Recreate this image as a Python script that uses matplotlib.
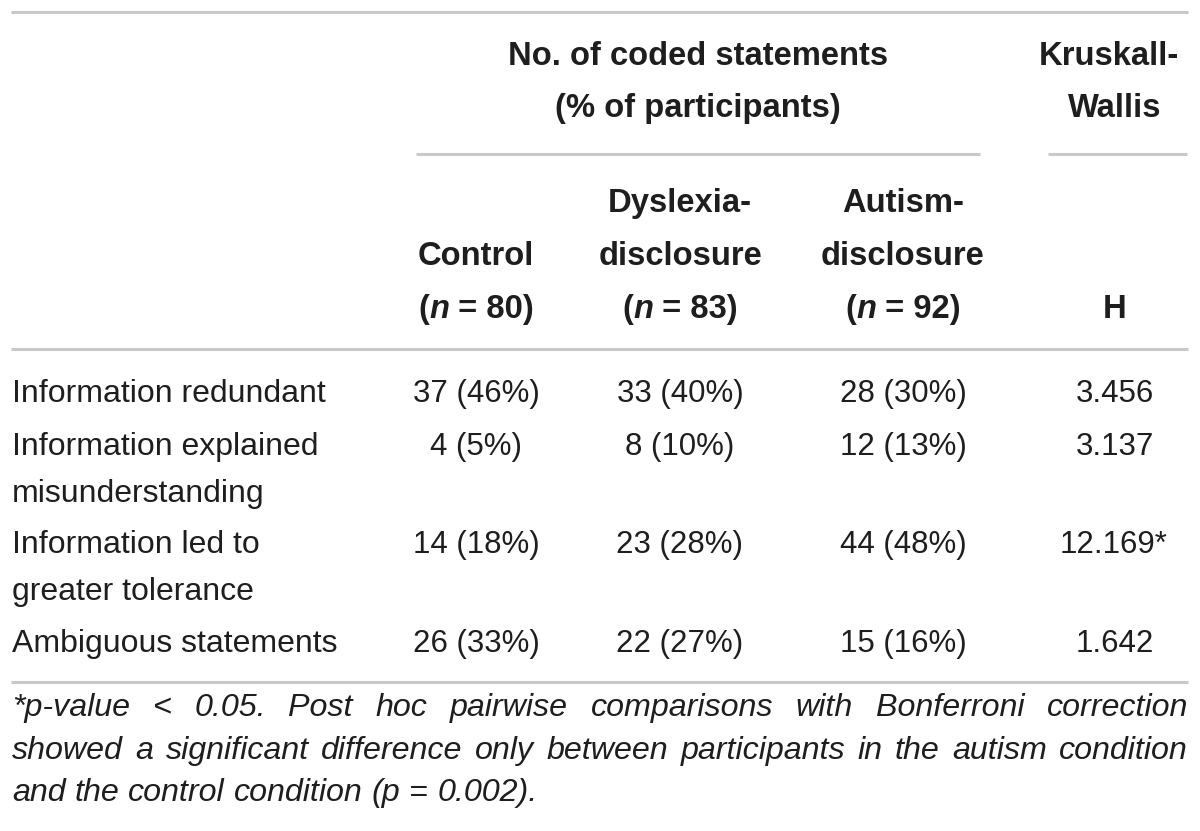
import matplotlib
matplotlib.use("Agg")
import matplotlib.pyplot as plt
from matplotlib import font_manager

# ---------------- data ----------------
row_labels = [["Information redundant"],
              ["Information explained", "misunderstanding"],
              ["Information led to", "greater tolerance"],
              ["Ambiguous statements"]]
group_names = [["Control"], ["Dyslexia-", "disclosure"], ["Autism-", "disclosure"]]
group_n = [80, 83, 92]
control_count = [37, 4, 14, 26]
control_pct = [46, 5, 18, 33]
dyslexia_count = [33, 8, 23, 22]
dyslexia_pct = [40, 10, 28, 27]
autism_count = [28, 12, 44, 15]
autism_pct = [30, 13, 48, 16]
h_values = [3.456, 3.137, 12.169, 1.642]
h_significant = [False, False, True, False]
spanner_title = ["No. of coded statements", "(% of participants)"]
test_title = ["Kruskall-", "Wallis"]
test_stat = "H"
footnote_lines = [
    "*p-value < 0.05. Post hoc pairwise comparisons with Bonferroni correction",
    "showed a significant difference only between participants in the autism condition",
    "and the control condition (p = 0.002).",
]

# ---------------- style ----------------
W, H = 1200, 831
FONT = "Liberation Sans"
names = {f.name for f in font_manager.fontManager.ttflist}
NARROW = "Liberation Sans Narrow" if "Liberation Sans Narrow" in names else FONT
TXT = "#1e1e1e"
LINE = "#c9c9c9"
FS_LABEL = 23
FS_NUM = 22.5
FS_HEAD = 23.6
FS_FOOT = 23.2

fig = plt.figure(figsize=(W / 100, H / 100), dpi=100)
ax = fig.add_axes([0, 0, 1, 1])
ax.set_xlim(0, W)
ax.set_ylim(H, 0)
ax.axis("off")
fig.patch.set_facecolor("white")
renderer = fig.canvas.get_renderer()


def width_of(s, **kw):
    t = ax.text(0, 0, s, fontsize=kw.get("fontsize", FS_NUM), family=kw.get("family", FONT),
                fontweight=kw.get("fontweight", "normal"), fontstyle=kw.get("fontstyle", "normal"))
    w = t.get_window_extent(renderer).width
    t.remove()
    return w


def runs(xc, y, parts):
    widths = [width_of(p, **kw) for p, kw in parts]
    x = xc - sum(widths) / 2
    for (p, kw), w in zip(parts, widths):
        ax.text(x, y, p, va="baseline", ha="left", color=TXT,
                fontsize=kw.get("fontsize", FS_NUM), family=kw.get("family", FONT),
                fontweight=kw.get("fontweight", "normal"), fontstyle=kw.get("fontstyle", "normal"))
        x += w


def hline(y, x0, x1, lw=2.2):
    ax.plot([x0, x1], [y, y], color=LINE, lw=lw, solid_capstyle="butt")


# rules
hline(12, 11, 1188)
hline(154, 416, 980)
hline(154, 1048, 1187)
hline(349, 11, 1188)
hline(682, 11, 1188)

B = dict(fontweight="bold", fontsize=FS_HEAD)
BI = dict(fontweight="bold", fontstyle="italic", fontsize=FS_HEAD)


def head(x, y, s):
    ax.text(x, y, s, ha="center", va="baseline", fontsize=FS_HEAD,
            family=FONT, fontweight="bold", color=TXT)


# header spanner
for line, yy in zip(spanner_title, [65, 117]):
    head(698, yy, line)
for line, xx, yy in zip(test_title, [1109, 1115], [65, 117]):
    head(xx, yy, line)

col_x = [476, 680, 903, 1115]
for gi, (lines, n) in enumerate(zip(group_names, group_n)):
    for line, yy in zip(lines, [212, 265][2 - len(lines):]):
        head(col_x[gi], yy, line)
    runs(col_x[gi], 318, [("(", B), ("n", BI), (f" = {n})", B)])
head(col_x[3], 318, test_stat)

# body
row_y = [402, 455, 553, 652]
for r, labels in enumerate(row_labels):
    for k, lab in enumerate(labels):
        ax.text(12, row_y[r] + 47 * k, lab, ha="left", va="baseline", fontsize=FS_LABEL,
                family=FONT, color=TXT)
    cells = [f"{control_count[r]} ({control_pct[r]}%)",
             f"{dyslexia_count[r]} ({dyslexia_pct[r]}%)",
             f"{autism_count[r]} ({autism_pct[r]}%)"]
    for c, s in enumerate(cells):
        ax.text(col_x[c], row_y[r], s, ha="center", va="baseline", fontsize=FS_NUM,
                family=FONT, color=TXT)
    hs = f"{h_values[r]:.3f}"
    if h_significant[r]:
        ax.text(1114, row_y[r], hs + "*", ha="center", va="baseline", fontsize=FS_NUM,
                family=FONT, color=TXT)
    else:
        ax.text(col_x[3], row_y[r], hs, ha="center", va="baseline", fontsize=FS_NUM,
                family=FONT, color=TXT)

# footnote (justified)
IT = dict(fontstyle="italic", family=NARROW, fontsize=FS_FOOT)
foot_y = [716, 759, 801]
left, right = 12, 1188
for i, line in enumerate(footnote_lines):
    words = line.split(" ")
    ws = [width_of(w, **IT) for w in words]
    if i < len(footnote_lines) - 1:
        gap = (right - left - sum(ws)) / (len(words) - 1)
    else:
        gap = width_of("a a", **IT) - width_of("aa", **IT)
    x = left
    for w, wd in zip(words, ws):
        ax.text(x, foot_y[i], w, ha="left", va="baseline", color=TXT,
                fontsize=FS_FOOT, family=NARROW, fontstyle="italic")
        x += wd + gap

fig.savefig("out.png", dpi=100, facecolor="white")
